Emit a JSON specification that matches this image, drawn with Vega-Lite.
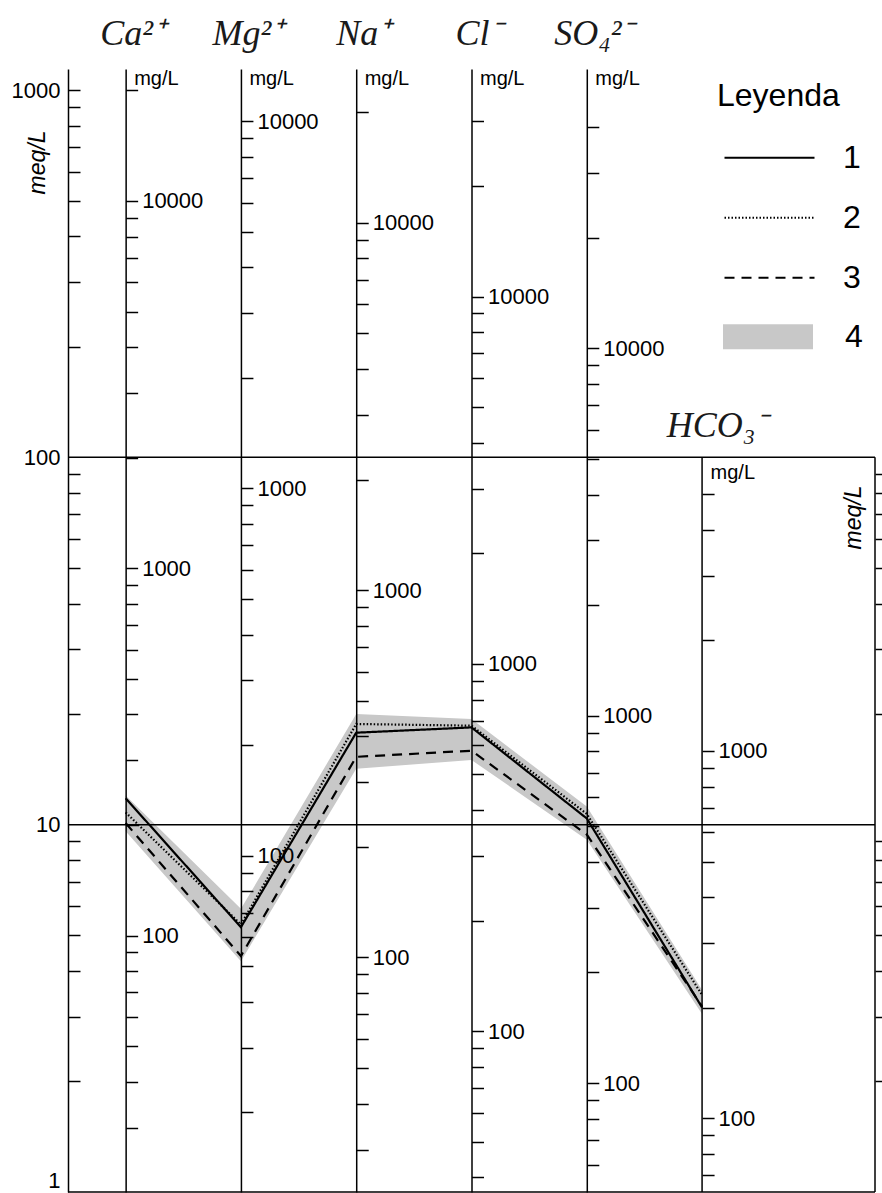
{
  "$schema": "https://vega.github.io/schema/vega-lite/v6.json",
  "width": 807,
  "height": 1123,
  "autosize": {"type": "none"},
  "padding": {"left": 68, "top": 69, "right": 7, "bottom": 1},
  "background": "white",
  "config": {
    "view": {"stroke": null},
    "font": "Liberation Sans",
    "axis": {
      "labelFont": "Liberation Sans",
      "labelFontSize": 22,
      "labelColor": "black",
      "tickColor": "black",
      "tickWidth": 1.5,
      "domainColor": "black",
      "domainWidth": 1.5,
      "titleFont": "Liberation Sans",
      "titleFontWeight": "normal",
      "titleColor": "black",
      "grid": false,
      "labelOverlap": false,
      "labelFlush": false,
      "labelBound": false
    },
    "legend": {
      "padding": 0,
      "symbolSize": 8100,
      "symbolOffset": 6,
      "clipHeight": 59.5,
      "rowPadding": 0,
      "labelFont": "Liberation Sans",
      "labelFontSize": 32,
      "labelColor": "black",
      "labelOffset": 27
    }
  },
  "datasets": {
    "lines": [
      {"series": "1", "ion": "Ca", "idx": 1, "meq": 11.8},
      {"series": "1", "ion": "Mg", "idx": 2, "meq": 5.26},
      {"series": "1", "ion": "Na", "idx": 3, "meq": 17.8},
      {"series": "1", "ion": "Cl", "idx": 4, "meq": 18.4},
      {"series": "1", "ion": "SO4", "idx": 5, "meq": 10.4},
      {"series": "1", "ion": "HCO3", "idx": 6, "meq": 3.18},
      {"series": "2", "ion": "Ca", "idx": 1, "meq": 10.8},
      {"series": "2", "ion": "Mg", "idx": 2, "meq": 5.35},
      {"series": "2", "ion": "Na", "idx": 3, "meq": 18.8},
      {"series": "2", "ion": "Cl", "idx": 4, "meq": 18.6},
      {"series": "2", "ion": "SO4", "idx": 5, "meq": 10.7},
      {"series": "2", "ion": "HCO3", "idx": 6, "meq": 3.44},
      {"series": "3", "ion": "Ca", "idx": 1, "meq": 10.1},
      {"series": "3", "ion": "Mg", "idx": 2, "meq": 4.39},
      {"series": "3", "ion": "Na", "idx": 3, "meq": 15.3},
      {"series": "3", "ion": "Cl", "idx": 4, "meq": 15.9},
      {"series": "3", "ion": "SO4", "idx": 5, "meq": 9.4},
      {"series": "3", "ion": "HCO3", "idx": 6, "meq": 3.2}
    ],
    "band": [
      {"series": "4", "ion": "Ca", "idx": 1, "lo": 9.6, "hi": 12.0},
      {"series": "4", "ion": "Mg", "idx": 2, "lo": 4.25, "hi": 5.9},
      {"series": "4", "ion": "Na", "idx": 3, "lo": 14.2, "hi": 20.0},
      {"series": "4", "ion": "Cl", "idx": 4, "lo": 15.0, "hi": 19.4},
      {"series": "4", "ion": "SO4", "idx": 5, "lo": 9.1, "hi": 11.2},
      {"series": "4", "ion": "HCO3", "idx": 6, "lo": 3.05, "hi": 3.55}
    ],
    "ions": [
      {"ion": "Ca", "idx": 1, "label": "Ca²⁺"},
      {"ion": "Mg", "idx": 2, "label": "Mg²⁺"},
      {"ion": "Na", "idx": 3, "label": "Na⁺"},
      {"ion": "Cl", "idx": 4, "label": "Cl⁻"},
      {"ion": "SO4", "idx": 5, "label": "SO₄²⁻"}
    ]
  },
  "layer": [
    {
      "data": {"name": "band"},
      "mark": {"type": "area", "opacity": 1},
      "encoding": {
        "x": {"field": "idx", "type": "quantitative", "scale": {"domain": [0.5, 7.5], "nice": false, "zero": false}, "axis": null},
        "y": {
          "field": "hi", "type": "quantitative",
          "scale": {"type": "log", "domain": [1, 1141], "nice": false},
          "axis": {
            "orient": "left", "values": [1, 10, 100, 1000], "format": "d",
            "ticks": false, "labelPadding": 8, "labelFlush": true,
            "title": "meq/L", "titleAngle": 270, "titleX": -31, "titleY": 93,
            "titleAlign": "center", "titleBaseline": "middle",
            "titleFontStyle": "italic", "titleFontSize": 23
          }
        },
        "y2": {"field": "lo"},
        "fill": {
          "field": "series", "type": "nominal",
          "scale": {"domain": ["4"], "range": ["#c8c8c8"]},
          "legend": {
            "orient": "none", "legendX": 649, "legendY": 238, "title": null, "labelOffset": 32,
            "symbolType": "M-1,-0.28H1V0.28H-1Z", "symbolStrokeWidth": 0, "symbolOpacity": 1
          }
        }
      }
    },
    {
      "data": {"values": [{"meq": 1}, {"meq": 10}, {"meq": 100}]},
      "mark": {"type": "rule", "color": "black", "strokeWidth": 1.5},
      "encoding": {
        "y": {"field": "meq", "type": "quantitative", "scale": {"type": "log", "domain": [1, 1141], "nice": false}, "axis": null}
      }
    },
    {
      "data": {"values": [{"idx": 6}, {"idx": 7.5}]},
      "mark": {"type": "rule", "color": "black", "strokeWidth": 1.5},
      "encoding": {
        "x": {"field": "idx", "type": "quantitative", "axis": null},
        "y": {"datum": 1, "type": "quantitative", "scale": {"type": "log", "domain": [1, 1141], "nice": false}, "axis": null},
        "y2": {"datum": 100}
      }
    },
    {
      "data": {"values": [{"meq": 1000}]},
      "mark": {"type": "point", "opacity": 0},
      "encoding": {
        "y": {
          "field": "meq", "type": "quantitative",
          "scale": {"type": "log", "domain": [1, 1141], "nice": false},
          "axis": {"orient": "right", "offset": -807, "values": [2,3,4,5,6,7,8,9,20,30,40,50,60,70,80,90,200,300,400,500,600,700,800,900,1000], "labels": false, "domain": false, "tickSize": 12, "title": null}
        }
      }
    },
    {
      "data": {"values": [{"meq": 10}]},
      "mark": {"type": "point", "opacity": 0},
      "encoding": {
        "y": {
          "field": "meq", "type": "quantitative",
          "scale": {"type": "log", "domain": [1, 1141], "nice": false},
          "axis": {"orient": "right", "offset": 0, "values": [2,3,4,5,6,7,8,9,20,30,40,50,60,70,80,90], "labels": false, "domain": false, "tickSize": 12,
            "title": "meq/L", "titleAngle": 270, "titleX": -22, "titleY": 448, "titleAlign": "center", "titleBaseline": "middle", "titleFontStyle": "italic", "titleFontSize": 23}
        }
      }
    },
    {
      "data": {"values": [{"mg": 1000}]},
      "mark": {"type": "point", "opacity": 0},
      "encoding": {
        "y": {
          "field": "mg", "type": "quantitative",
          "scale": {"type": "log", "domain": [20.04, 22866], "nice": false},
          "axis": {"orient": "right", "offset": -749.36, "zindex": 1,
            "values": [30,40,50,60,70,80,90,100,200,300,400,500,600,700,800,900,1000,2000,3000,4000,5000,6000,7000,8000,9000,10000,20000],
            "format": "d", "labelExpr": "indexof([100,1000,10000], datum.value) >= 0 ? datum.label : ''",
            "tickSize": 12, "labelPadding": 4, "labelBaseline": "middle",
            "title": "mg/L", "titleAngle": 0, "titleX": 8, "titleY": 9, "titleAlign": "left", "titleBaseline": "middle", "titleFontSize": 20}
        }
      }
    },
    {
      "data": {"values": [{"mg": 1000}]},
      "mark": {"type": "point", "opacity": 0},
      "encoding": {
        "y": {
          "field": "mg", "type": "quantitative",
          "scale": {"type": "log", "domain": [12.15, 13863], "nice": false},
          "axis": {"orient": "right", "offset": -634.07, "zindex": 1,
            "values": [20,30,40,50,60,70,80,90,100,200,300,400,500,600,700,800,900,1000,2000,3000,4000,5000,6000,7000,8000,9000,10000],
            "format": "d", "labelExpr": "indexof([100,1000,10000], datum.value) >= 0 ? datum.label : ''",
            "tickSize": 12, "labelPadding": 4, "labelBaseline": "middle",
            "title": "mg/L", "titleAngle": 0, "titleX": 8, "titleY": 9, "titleAlign": "left", "titleBaseline": "middle", "titleFontSize": 20}
        }
      }
    },
    {
      "data": {"values": [{"mg": 1000}]},
      "mark": {"type": "point", "opacity": 0},
      "encoding": {
        "y": {
          "field": "mg", "type": "quantitative",
          "scale": {"type": "log", "domain": [22.99, 26232], "nice": false},
          "axis": {"orient": "right", "offset": -518.79, "zindex": 1,
            "values": [30,40,50,60,70,80,90,100,200,300,400,500,600,700,800,900,1000,2000,3000,4000,5000,6000,7000,8000,9000,10000,20000],
            "format": "d", "labelExpr": "indexof([100,1000,10000], datum.value) >= 0 ? datum.label : ''",
            "tickSize": 12, "labelPadding": 4, "labelBaseline": "middle",
            "title": "mg/L", "titleAngle": 0, "titleX": 8, "titleY": 9, "titleAlign": "left", "titleBaseline": "middle", "titleFontSize": 20}
        }
      }
    },
    {
      "data": {"values": [{"mg": 1000}]},
      "mark": {"type": "point", "opacity": 0},
      "encoding": {
        "y": {
          "field": "mg", "type": "quantitative",
          "scale": {"type": "log", "domain": [36.5, 41647], "nice": false},
          "axis": {"orient": "right", "offset": -403.5, "zindex": 1,
            "values": [40,50,60,70,80,90,100,200,300,400,500,600,700,800,900,1000,2000,3000,4000,5000,6000,7000,8000,9000,10000,20000,30000],
            "format": "d", "labelExpr": "indexof([100,1000,10000], datum.value) >= 0 ? datum.label : ''",
            "tickSize": 12, "labelPadding": 4, "labelBaseline": "middle",
            "title": "mg/L", "titleAngle": 0, "titleX": 8, "titleY": 9, "titleAlign": "left", "titleBaseline": "middle", "titleFontSize": 20}
        }
      }
    },
    {
      "data": {"values": [{"mg": 1000}]},
      "mark": {"type": "point", "opacity": 0},
      "encoding": {
        "y": {
          "field": "mg", "type": "quantitative",
          "scale": {"type": "log", "domain": [50.5, 57621], "nice": false},
          "axis": {"orient": "right", "offset": -288.21, "zindex": 1,
            "values": [60,70,80,90,100,200,300,400,500,600,700,800,900,1000,2000,3000,4000,5000,6000,7000,8000,9000,10000,20000,30000,40000],
            "format": "d", "labelExpr": "indexof([100,1000,10000], datum.value) >= 0 ? datum.label : ''",
            "tickSize": 12, "labelPadding": 4, "labelBaseline": "middle",
            "title": "mg/L", "titleAngle": 0, "titleX": 8, "titleY": 9, "titleAlign": "left", "titleBaseline": "middle", "titleFontSize": 20}
        }
      }
    },
    {
      "data": {"values": [{"mg": 1000}]},
      "mark": {"type": "point", "opacity": 0},
      "encoding": {
        "y": {
          "field": "mg", "type": "quantitative",
          "scale": {"type": "log", "domain": [63, 71883], "nice": false},
          "axis": {"orient": "right", "offset": -172.93, "zindex": 1, "domain": false,
            "values": [70,80,90,100,200,300,400,500,600,700,800,900,1000,2000,3000,4000,5000],
            "format": "d", "labelExpr": "indexof([100,1000,10000], datum.value) >= 0 ? datum.label : ''",
            "tickSize": 12, "labelPadding": 4, "labelBaseline": "middle",
            "title": "mg/L", "titleAngle": 0, "titleX": 8, "titleY": 403, "titleAlign": "left", "titleBaseline": "middle", "titleFontSize": 20}
        }
      }
    },
    {
      "data": {"name": "lines"},
      "mark": {"type": "line", "color": "black", "strokeWidth": 2.2},
      "encoding": {
        "x": {"field": "idx", "type": "quantitative", "scale": {"domain": [0.5, 7.5], "nice": false, "zero": false}, "axis": null},
        "y": {"field": "meq", "type": "quantitative", "scale": {"type": "log", "domain": [1, 1141], "nice": false}, "axis": null},
        "strokeDash": {
          "field": "series", "type": "nominal",
          "scale": {"domain": ["1", "2", "3"], "range": [[1, 0], [1.5, 2], [10, 7]]},
          "legend": {
            "orient": "none", "legendX": 649, "legendY": 12,
            "title": "Leyenda", "titleFont": "Liberation Sans", "titleFontSize": 32, "titleFontWeight": "normal",
            "titleColor": "black", "titleAnchor": "start", "titleBaseline": "top", "titlePadding": 15,
            "symbolType": "stroke", "symbolStrokeWidth": 2.2, "symbolStrokeColor": "black"
          }
        }
      }
    },
    {
      "data": {"name": "ions"},
      "mark": {"type": "text", "font": "Liberation Serif", "fontStyle": "italic", "fontSize": 36, "align": "center", "baseline": "alphabetic", "dx": 7, "dy": -24, "color": "#1a1a1a"},
      "encoding": {
        "x": {"field": "idx", "type": "quantitative", "axis": null},
        "y": {"datum": 1141, "type": "quantitative", "scale": {"type": "log", "domain": [1, 1141], "nice": false}, "axis": null},
        "text": {"field": "label"}
      }
    },
    {
      "data": {"values": [{"label": "HCO₃⁻"}]},
      "mark": {"type": "text", "font": "Liberation Serif", "fontStyle": "italic", "fontSize": 36, "align": "center", "baseline": "alphabetic", "dx": 15, "dy": -20, "color": "#1a1a1a"},
      "encoding": {
        "x": {"datum": 6, "type": "quantitative", "axis": null},
        "y": {"datum": 100, "type": "quantitative", "scale": {"type": "log", "domain": [1, 1141], "nice": false}, "axis": null},
        "text": {"field": "label"}
      }
    }
  ],
  "resolve": {"scale": {"y": "independent"}}
}
